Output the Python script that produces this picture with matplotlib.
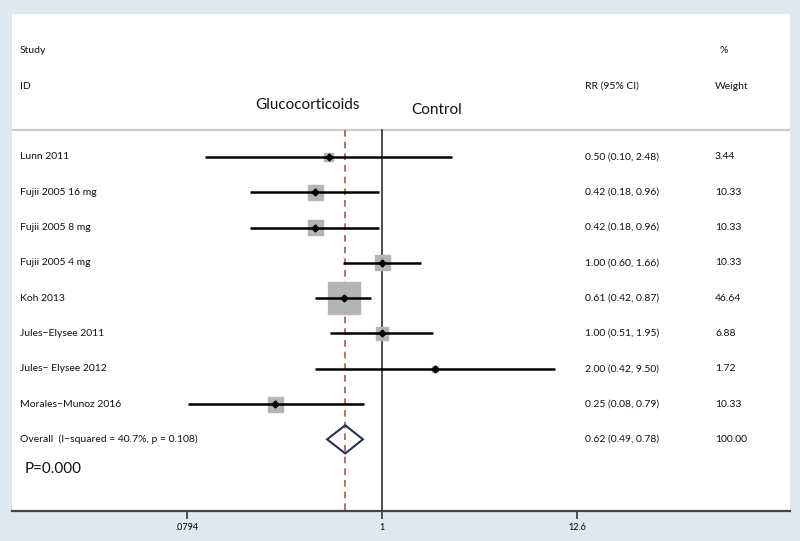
import numpy as np
import matplotlib
matplotlib.use('Agg')
import matplotlib.pyplot as plt
from matplotlib.patches import Polygon
from matplotlib.transforms import blended_transform_factory

plt.rcParams['font.family'] = ['Lato', 'DejaVu Sans']

studies  = ['Lunn 2011', 'Fujii 2005 16 mg', 'Fujii 2005 8 mg', 'Fujii 2005 4 mg',
            'Koh 2013', 'Jules\u2212Elysee 2011', 'Jules\u2212 Elysee 2012',
            'Morales\u2212Munoz 2016']
rr       = [0.50, 0.42, 0.42, 1.00, 0.61, 1.00, 2.00, 0.25]
ci_low   = [0.10, 0.18, 0.18, 0.60, 0.42, 0.51, 0.42, 0.08]
ci_high  = [2.48, 0.96, 0.96, 1.66, 0.87, 1.95, 9.50, 0.79]
weights  = [3.44, 10.33, 10.33, 10.33, 46.64, 6.88, 1.72, 10.33]

overall_label = 'Overall  (I\u2212squared = 40.7%, p = 0.108)'
overall_rr, overall_low, overall_high = 0.62, 0.49, 0.78
overall_weight = 100.00
xticks = [0.0794, 1, 12.6]
xtick_labels = ['.0794', '1', '12.6']

BG = '#dfe8ee'
fig = plt.figure(figsize=(8, 5.41), dpi=100, facecolor=BG)
ax = fig.add_axes([12 / 800, 30 / 541, 778 / 800, 497 / 541])
ax.set_facecolor('white')
ax.set_xscale('log')
ax.set_xlim(10 ** -2.087, 10 ** 2.301)
ax.set_ylim(10.03, -4.05)

for s in ('top', 'left', 'right'):
    ax.spines[s].set_visible(False)
ax.spines['bottom'].set_color('#444444')
ax.spines['bottom'].set_linewidth(1.6)
ax.set_yticks([])
ax.set_xticks(xticks)
ax.set_xticklabels(xtick_labels, fontsize=6.5)
ax.minorticks_off()
ax.tick_params(axis='x', length=6, width=1.2, color='#333333', pad=3)

# header rule and reference lines
ax.axhline(-0.76, color='#cccccc', lw=1.6)
ax.plot([1, 1], [-0.76, 10.03], color='#3a2a2a', lw=1.2)
ax.plot([overall_rr] * 2, [-0.76, 10.03], color='#b5534f', lw=1.2,
        ls=(0, (4, 3)))

# study boxes (area ~ weight), CIs and point estimates
y = np.arange(len(studies))
ax.scatter(rr, y, s=[530 * w / 46.64 for w in weights], marker='s',
           color='#b4b4b4', zorder=2)
ax.hlines(y, ci_low, ci_high, color='black', lw=1.8, zorder=3)
ax.scatter(rr, y, s=12, marker='D', color='black', zorder=4)

yo = len(studies)
ax.add_patch(Polygon([(overall_low, yo), (overall_rr, yo - 0.4),
                      (overall_high, yo), (overall_rr, yo + 0.4)],
                     closed=True, fill=False, edgecolor='#2b2f5c', lw=1.5,
                     zorder=3))

tr = blended_transform_factory(ax.transAxes, ax.transData)
fs = 7.5
tc = '#111111'
for i, name in enumerate(studies):
    ax.text(0.0103, i, name, transform=tr, fontsize=fs, va='center', color=tc)
    ax.text(0.7365, i, f'{rr[i]:.2f} ({ci_low[i]:.2f}, {ci_high[i]:.2f})',
            transform=tr, fontsize=fs, va='center', color=tc)
    ax.text(0.9036, i, f'{weights[i]:.2f}', transform=tr, fontsize=fs,
            va='center', color=tc)
ax.text(0.0103, yo, overall_label, transform=tr, fontsize=fs, va='center',
        color=tc)
ax.text(0.7365, yo, f'{overall_rr:.2f} ({overall_low:.2f}, {overall_high:.2f})',
        transform=tr, fontsize=fs, va='center', color=tc)
ax.text(0.9036, yo, f'{overall_weight:.2f}', transform=tr, fontsize=fs,
        va='center', color=tc)

# header
ax.text(0.0103, -3.03, 'Study', transform=tr, fontsize=fs, va='center', color=tc)
ax.text(0.0103, -2.01, 'ID', transform=tr, fontsize=fs, va='center', color=tc)
ax.text(0.7365, -2.01, 'RR (95% CI)', transform=tr, fontsize=fs, va='center',
        color=tc)
ax.text(0.910, -3.03, '%', transform=tr, fontsize=fs, va='center', color=tc)
ax.text(0.9036, -2.01, 'Weight', transform=tr, fontsize=fs, va='center',
        color=tc)
ax.text(0.380, -1.47, 'Glucocorticoids', transform=tr, fontsize=11,
        ha='center', va='center', color=tc)
ax.text(0.546, -1.33, 'Control', transform=tr, fontsize=11, ha='center',
        va='center', color=tc)
ax.text(0.0167, 8.84, 'P=0.000', transform=tr, fontsize=11, va='center',
        color=tc)

fig.savefig('out.png', dpi=100, facecolor=BG)
